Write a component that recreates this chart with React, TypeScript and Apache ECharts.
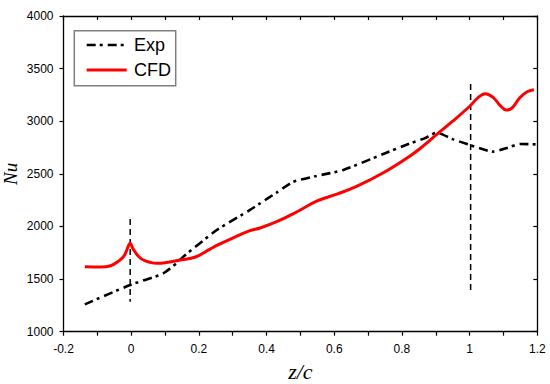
import React, { useEffect, useRef } from "react";
import * as echarts from "echarts";

const expX = [-0.137, -0.003, 0.085, 0.1, 0.134, 0.154, 0.253, 0.351, 0.381, 0.43, 0.479, 0.548, 0.627, 0.745, 0.824, 0.865, 0.903, 0.95, 1.001, 1.07, 1.11, 1.149, 1.195];
const expY = [1260, 1444, 1539, 1565, 1650, 1713, 1966, 2157, 2220, 2322, 2425, 2480, 2537, 2689, 2790, 2835, 2891, 2830, 2774, 2711, 2745, 2784, 2780];

const cfdX = [-0.137, -0.09, -0.063, -0.033, -0.02, -0.013, -0.003, 0.005, 0.011, 0.022, 0.036, 0.055, 0.075, 0.1, 0.144, 0.19, 0.233, 0.253, 0.3, 0.351, 0.381, 0.43, 0.49, 0.548, 0.61, 0.666, 0.745, 0.824, 0.865, 0.903, 0.95, 1.001, 1.025, 1.046, 1.07, 1.09, 1.108, 1.125, 1.149, 1.17, 1.19];
const cfdY = [1618, 1615, 1624, 1681, 1725, 1776, 1840, 1790, 1760, 1715, 1681, 1660, 1650, 1655, 1681, 1710, 1785, 1820, 1890, 1960, 1985, 2045, 2140, 2240, 2310, 2380, 2510, 2670, 2770, 2875, 3000, 3145, 3225, 3262, 3225, 3150, 3107, 3125, 3225, 3280, 3300];

const vline1X = [-0.003, -0.003];
const vline1Y = [2071, 1285];
const vline2X = [1.003, 1.003];
const vline2Y = [3354, 1358];

const seriesNames = ["Exp", "CFD"];
const xAxisName = "z/c";
const yAxisName = "Nu";

const zip = (xs: number[], ys: number[]) => xs.map((x, i) => [x, ys[i]]);

export default function App() {
  const ref = useRef<HTMLDivElement>(null);
  useEffect(() => {
    if (!ref.current) return;
    const chart = echarts.init(ref.current, null, { renderer: "svg" });
    const sans = "Liberation Sans";
    const serif = "Liberation Serif";
    const axisLine = { show: true, onZero: false, lineStyle: { color: "#000", width: 1.3 } };
    const fmt = (v: number) => String(Math.round(v * 10) / 10);
    const fmtY = (v: number) => String(Math.round(v));
    chart.setOption({
      animation: false,
      backgroundColor: "#fff",
      grid: { left: 63.5, right: 12.7, top: 16, bottom: 52.3, containLabel: false, outerBoundsMode: "none" },
      xAxis: [
        {
          type: "value",
          min: -0.2,
          max: 1.2,
          interval: 0.2,
          position: "bottom",
          name: xAxisName,
          nameLocation: "middle",
          nameGap: 29,
          nameMoveOverlap: false,
          nameTextStyle: { fontFamily: serif, fontStyle: "italic", fontSize: 22, color: "#000" },
          axisLine,
          axisTick: { show: true, inside: false, length: 4, lineStyle: { color: "#000", width: 1.2 } },
          minorTick: { show: true, splitNumber: 2, length: 4, lineStyle: { color: "#000", width: 1.2 } },
          axisLabel: { formatter: fmt, fontFamily: sans, fontSize: 12, color: "#000", margin: 11 },
          splitLine: { show: false },
        },
        {
          type: "value",
          min: -0.2,
          max: 1.2,
          interval: 0.2,
          position: "top",
          axisLine,
          axisTick: { show: true, inside: true, length: 4, lineStyle: { color: "#000", width: 1.2 } },
          minorTick: { show: true, splitNumber: 2, length: 4, lineStyle: { color: "#000", width: 1.2 } },
          axisLabel: { show: false },
          splitLine: { show: false },
        },
      ],
      yAxis: [
        {
          type: "value",
          min: 1000,
          max: 4000,
          interval: 500,
          position: "left",
          name: yAxisName,
          nameLocation: "middle",
          nameGap: 44,
          nameMoveOverlap: false,
          nameTextStyle: { fontFamily: serif, fontStyle: "italic", fontSize: 19, color: "#000" },
          axisLine,
          axisTick: { show: true, inside: false, length: 4, lineStyle: { color: "#000", width: 1.2 } },
          axisLabel: { formatter: fmtY, fontFamily: sans, fontSize: 12, color: "#000", margin: 10 },
          splitLine: { show: false },
        },
        {
          type: "value",
          min: 1000,
          max: 4000,
          interval: 500,
          position: "right",
          axisLine,
          axisTick: { show: true, inside: true, length: 4, lineStyle: { color: "#000", width: 1.2 } },
          axisLabel: { show: false },
          splitLine: { show: false },
        },
      ],
      series: [
        {
          name: "vline1",
          type: "line",
          data: zip(vline1X, vline1Y),
          symbol: "none",
          silent: true,
          lineStyle: { color: "#000", width: 1.5, type: [6, 4] },
        },
        {
          name: "vline2",
          type: "line",
          data: zip(vline2X, vline2Y),
          symbol: "none",
          silent: true,
          lineStyle: { color: "#000", width: 1.5, type: [6, 4] },
        },
        {
          name: seriesNames[0],
          type: "line",
          data: zip(expX, expY),
          symbol: "none",
          smooth: 0.2,
          lineStyle: { color: "#000", width: 2.6, type: [9, 4, 3, 5] },
        },
        {
          name: seriesNames[1],
          type: "line",
          data: zip(cfdX, cfdY),
          symbol: "none",
          smooth: 0.4,
          lineStyle: { color: "#ff0000", width: 3 },
        },
      ],
      graphic: [
        {
          type: "rect",
          shape: { x: 74.3, y: 30.7, width: 101.4, height: 55 },
          style: { fill: "#fff", stroke: "#7f7f7f", lineWidth: 1.5 },
          z: 100,
        },
        {
          type: "line",
          shape: { x1: 86.7, y1: 45, x2: 126.7, y2: 45 },
          style: { stroke: "#000", lineWidth: 2.6, lineDash: [9, 4, 3, 5] },
          z: 101,
        },
        {
          type: "line",
          shape: { x1: 86.7, y1: 70, x2: 126.7, y2: 70 },
          style: { stroke: "#ff0000", lineWidth: 3 },
          z: 101,
        },
        {
          type: "text",
          x: 134,
          y: 45,
          style: { text: seriesNames[0], fontFamily: sans, fontSize: 18, fill: "#000", verticalAlign: "middle", align: "left" },
          z: 101,
        },
        {
          type: "text",
          x: 134,
          y: 70,
          style: { text: seriesNames[1], fontFamily: sans, fontSize: 18, fill: "#000", verticalAlign: "middle", align: "left" },
          z: 101,
        },
      ],
    });
    return () => chart.dispose();
  }, []);
  return (
    <div
      ref={ref}
      style={{ position: "fixed", left: 0, top: 0, width: 550, height: 384, background: "#fff" }}
    />
  );
}
